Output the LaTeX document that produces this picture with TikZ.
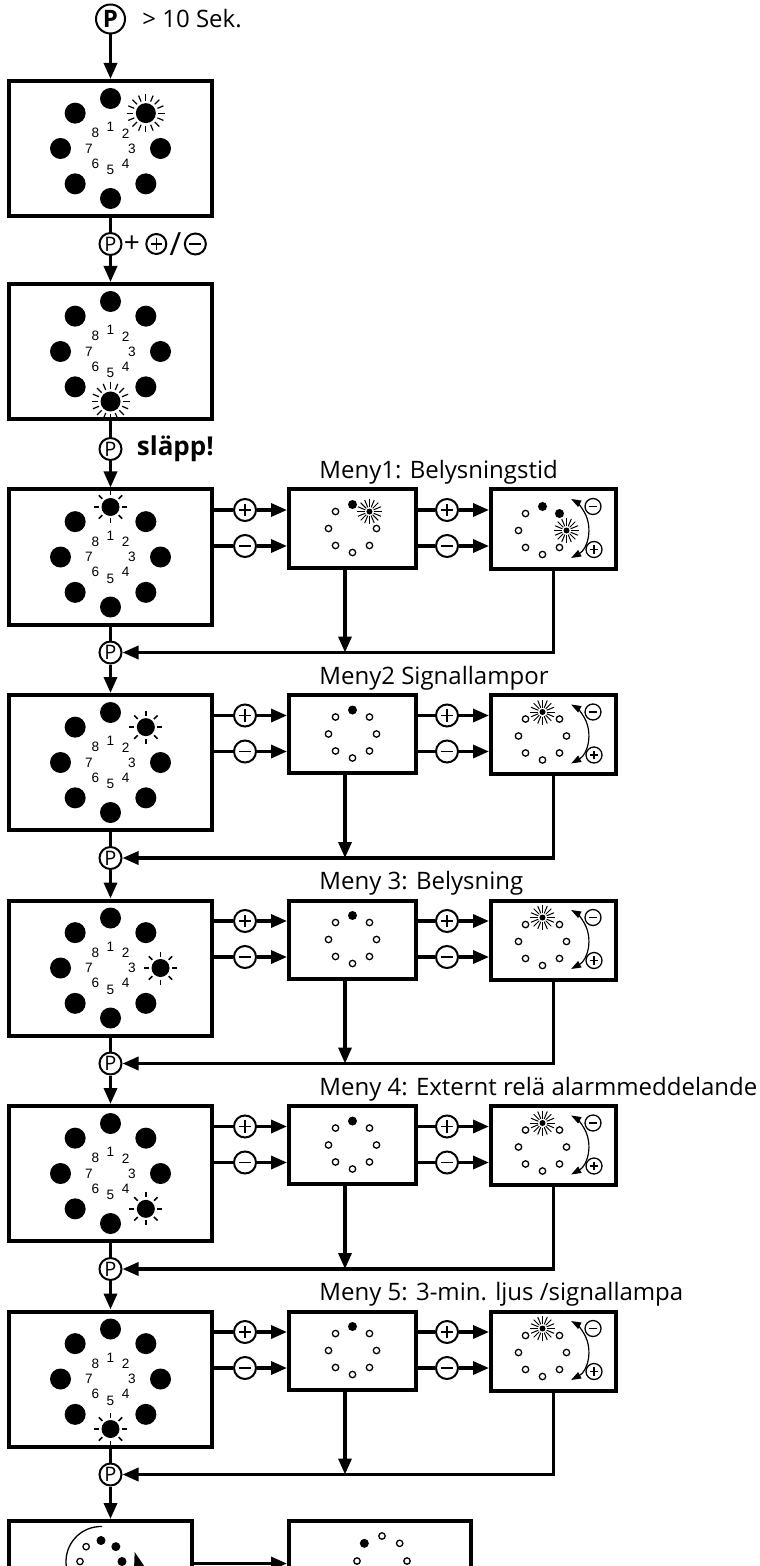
\documentclass[tikz,border=0pt]{standalone}
\usepackage{fontspec}
\setmainfont{Open Sans}
\newfontfamily\numfont{Liberation Sans}
\usetikzlibrary{arrows.meta,positioning,calc}

% ring of eight big lamps: #1 centre, #2 lit lamp, #3 1 = steady, 2 = flashing
\newcommand\lampring[3]{%
  \foreach \lmp in {1,...,8}{%
    \coordinate (lamp) at ($(#1)+({135-45*\lmp}:50)$);
    \ifnum\lmp=#2\relax
      \ifnum#3=1\relax
        \fill (lamp) circle[radius=9];
        \foreach \ang in {0,45,...,315}
          \draw[line width=0.75pt] ($(lamp)+(\ang:11.5)$) -- ($(lamp)+(\ang:16.5)$);
      \else
        \fill (lamp) circle[radius=10];
        \foreach \ang in {0,22.5,...,337.5}
          \draw[line width=0.6pt] ($(lamp)+(\ang:12.5)$) -- ($(lamp)+(\ang:19)$);
      \fi
    \else
      \fill (lamp) circle[radius=10.5];
    \fi
    \node[digit] (n\lmp) at ($(#1)+({135-45*\lmp}:21.5)$) {\lmp};
  }}

% ring of eight small lamps: #1 centre, #2 radius, #3 states (0 off, 1 on, 2 flashing)
\newcommand\minilamps[3]{%
  \edef\lampset{#3}%
  \foreach \lampst [count=\lmp] in \lampset{%
    \coordinate (lamp) at ($(#1)+({135-45*\lmp}:#2)$);
    \ifcase\lampst\relax
      \draw[line width=0.65pt] (lamp) circle[radius=3.2];
    \or
      \fill (lamp) circle[radius=4.5];
    \or
      \fill (lamp) circle[radius=3];
      \foreach \ang in {0,22.5,...,337.5}
        \draw[line width=0.5pt] ($(lamp)+(\ang:4.5)$) -- ($(lamp)+(\ang:12.5)$);
    \fi}}

\begin{document}
\begin{tikzpicture}[x=0.5pt,y=0.5pt,>={Triangle[length=8pt,width=6.5pt]},
  panel/.style={draw,line width=2pt,minimum width=101.5pt,minimum height=67.5pt,inner sep=0pt},
  menubox/.style={panel,minimum width=63.5pt,minimum height=39pt},
  setbox/.style={panel,minimum width=62.5pt,minimum height=39.5pt},
  wire/.style={line width=1.7pt},
  thinarrow/.style={line width=0.6pt,>={Triangle[length=5pt,width=3.5pt]}},
  key/.style={circle,draw,fill=white,line width=1pt,minimum size=11pt,inner sep=0pt,font=\fontsize{10}{10}\selectfont},
  bigkey/.style={key,minimum size=14.5pt,font=\bfseries\fontsize{12}{12}\selectfont},
  tinykey/.style={key,line width=0.65pt,minimum size=8pt},
  keyplus/.style={path picture={\draw[line width=0.7pt]
      ($(path picture bounding box.west)!.22!(path picture bounding box.east)$) -- ($(path picture bounding box.west)!.78!(path picture bounding box.east)$)
      ($(path picture bounding box.south)!.22!(path picture bounding box.north)$) -- ($(path picture bounding box.south)!.78!(path picture bounding box.north)$);}},
  keyminus/.style={path picture={\draw[line width=0.7pt]
      ($(path picture bounding box.west)!.22!(path picture bounding box.east)$) -- ($(path picture bounding box.west)!.78!(path picture bounding box.east)$);}},
  digit/.style={font=\numfont\fontsize{6.8}{7}\selectfont,inner sep=0pt},
  caption/.style={font=\fontsize{12}{14}\selectfont,inner sep=0pt},
  menutitle/.style={caption,anchor=base west}]
\useasboundingbox (0,0) rectangle (759,-1566);
\node[bigkey] (pstart) at (110.5,-19) {P};
\node[caption,right=8pt of pstart] (sek) {> 10 Sek.};
\node[panel] (init) [below=22.25pt of pstart] {};
\lampring{init.center}{2}{2}
\node[key] (pi) [below=7pt of init] {P};
\node[caption,font=\fontsize{14}{14}\selectfont] (and) [right=0.5pt of pi] {+};
\node[key,keyplus,minimum size=10pt] (pip) [right=2.5pt of and] {};
\node[caption,font=\fontsize{16}{16}\selectfont] (or) [right=1pt of pip] {/};
\node[key,keyminus,minimum size=10.5pt] (pim) [right=1pt of or] {};
\node[panel] (s0) [below=32pt of init] {};
\lampring{s0.center}{5}{2}
\node[key] (p0) [below=8pt of s0] {P};
\node[caption,font=\bfseries\fontsize{13}{13}\selectfont] (free) [right=7pt of p0] {släpp!};
\draw[wire,->] (pstart) -- (init);
\draw[wire] (init) -- (pi);
\draw[wire,->] (pi) -- (s0);
\draw[wire] (s0) -- (p0);
\foreach \row/\midst/\rgtst/\ttl [remember=\row as \prow (initially 0)] in {
    1/{1,2,0,0,0,0,0,0}/{1,1,2,0,0,0,0,0}/{Meny1: Belysningstid},
    2/{1,0,0,0,0,0,0,0}/{2,0,0,0,0,0,0,0}/{Meny2 Signallampor},
    3/{1,0,0,0,0,0,0,0}/{2,0,0,0,0,0,0,0}/{Meny 3: Belysning},
    4/{1,0,0,0,0,0,0,0}/{2,0,0,0,0,0,0,0}/{Meny 4: Externt relä alarmmeddelande},
    5/{1,0,0,0,0,0,0,0}/{2,0,0,0,0,0,0,0}/{Meny 5: 3-min. ljus /signallampa}}{
  \node[panel] (s\row) [below=33.25pt of s\prow] {};
  \lampring{s\row.center}{\row}{1}
  \node[key] (p\row) [below=7pt of s\row] {P};
  \node[menubox] (m\row) [right=36.5pt of s\row.north east,anchor=north west] {};
  \node[setbox] (r\row) [right=35.5pt of m\row.north east,anchor=north west] {};
  \node[menutitle] (t\row) at ([shift={(32,9)}]m\row.north west) {\ttl};
  \minilamps{m\row.center}{24}{\midst}
  \coordinate (rc\row) at ([shift={(-11,-1.5)}]r\row.center);
  \minilamps{rc\row}{24}{\rgtst}
  \node[key,keyplus] (a\row) at ([shift={(31,-22.5)}]s\row.north east) {};
  \node[key,keyminus] (b\row) at ([shift={(31,-58.5)}]s\row.north east) {};
  \node[key,keyplus] (c\row) at ([shift={(29,-22.5)}]m\row.north east) {};
  \node[key,keyminus] (d\row) at ([shift={(29,-58.5)}]m\row.north east) {};
  \node[tinykey,keyminus] (u\row) at ([shift={(104,-19)}]r\row.north west) {};
  \node[tinykey,keyplus] (v\row) at ([shift={(105,-62)}]r\row.north west) {};
  \coordinate (j\row) at ([xshift=-3.75pt]m\row.south |- p\row);
  \draw[wire,->] (p\prow) -- (s\row);
  \draw[wire] (s\row) -- (p\row);
  \draw[wire,->] (s\row.east |- a\row) -- (a\row) -- (m\row.west |- a\row);
  \draw[wire,->] (s\row.east |- b\row) -- (b\row) -- (m\row.west |- b\row);
  \draw[wire,->] (m\row.east |- c\row) -- (c\row) -- (r\row.west |- c\row);
  \draw[wire,->] (m\row.east |- d\row) -- (d\row) -- (r\row.west |- d\row);
  \draw[wire,->] (m\row.south -| j\row) -- (j\row);
  \draw[wire,->] (r\row.south) -- (r\row.south |- p\row) -- (p\row);
  \draw[thinarrow,<->] ($(r\row.north west)+(66,-41)+(-61.4:33.6)$) arc[start angle=-61.4,end angle=61.4,radius=33.6];
}
\node[panel,minimum width=91.5pt,minimum height=42.5pt] (scan) [below=16.25pt of p5,xshift=-5pt] {};
\node[panel,minimum width=91pt,minimum height=42.5pt] (done) [right=46.5pt of scan] {};
\coordinate (sc) at ([shift={(0.5,2)}]scan.center);
\coordinate (dc) at ([shift={(2,2.5)}]done.center);
\minilamps{sc}{21}{1,1,1,0,0,0,0,0}
\minilamps{dc}{25}{0,0,0,0,0,0,0,1}
\draw[line width=0.65pt,-{Triangle[length=8pt,width=5pt]}] ($(sc)+(88:35)$) arc[start angle=88,end angle=376,radius=35];
\draw[wire,->] (p5) -- (p5 |- scan.north);
\draw[wire,->] (scan) -- (done);
\end{tikzpicture}
\end{document}
